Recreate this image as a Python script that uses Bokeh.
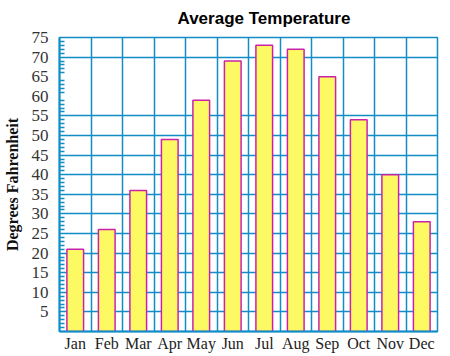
from bokeh.plotting import figure
from bokeh.models import FixedTicker, Range1d
from bokeh.embed import file_html
from bokeh.resources import INLINE
import numpy as np

months = ["Jan", "Feb", "Mar", "Apr", "May", "Jun", "Jul", "Aug", "Sep", "Oct", "Nov", "Dec"]
temps = [21, 26, 36, 49, 59, 69, 73, 72, 65, 54, 40, 28]
y_ticks = [5, 10, 15, 20, 25, 30, 35, 40, 45, 50, 55, 60, 65, 70, 75]
y_grid = [5, 10, 15, 20, 25, 30, 35, 40, 45, 50, 55, 70]
title_text = "Average Temperature"

BLUE = "#138dc6"
YELLOW = "#fdf962"
MAGENTA = "#cc22aa"

n = len(months)
xc = np.arange(n) + 0.5

p = figure(frame_width=378, frame_height=294, output_backend="svg", toolbar_location=None,
           x_range=Range1d(0, n), y_range=Range1d(0, 75),
           min_border_left=52, min_border_right=10, min_border_top=29, min_border_bottom=22)

p.vbar(x=xc, top=temps, width=0.53, bottom=0, fill_color=YELLOW, line_color=MAGENTA, line_width=1.5)

p.title.text = title_text
p.title.text_font = "Liberation Sans"
p.title.text_font_size = "17px"
p.title.text_font_style = "bold"
p.title.text_color = "#000000"
p.title.align = "left"
p.title.offset = 118
p.title.standoff = 16
p.title.vertical_align = "top"

p.outline_line_color = BLUE
p.outline_line_width = 1.5
p.outline_line_alpha = 1

# x axis
p.xaxis.ticker = FixedTicker(ticks=list(xc))
p.xaxis.major_label_overrides = {float(x): m for x, m in zip(xc, months)}
p.xaxis.major_label_text_font = "Liberation Serif"
p.xaxis.major_label_text_font_size = "16px"
p.xaxis.major_label_text_color = "#222222"
p.xaxis.major_tick_line_color = None
p.xaxis.major_tick_out = 0
p.xaxis.major_tick_in = 0
p.xaxis.minor_tick_line_color = None
p.xaxis.minor_tick_out = 0
p.xaxis.minor_tick_in = 0
p.xaxis.axis_line_color = BLUE
p.xaxis.axis_line_width = 2
p.xaxis.major_label_standoff = 3

# y axis
minor = [v for v in range(1, 75) if v % 5 != 0]
p.yaxis.ticker = FixedTicker(ticks=y_ticks, minor_ticks=minor)
p.yaxis.major_label_text_font = "Liberation Serif"
p.yaxis.major_label_text_font_size = "17px"
p.yaxis.major_label_text_color = "#333333"
p.yaxis.major_tick_line_color = None
p.yaxis.minor_tick_in = 5
p.yaxis.minor_tick_out = 0
p.yaxis.minor_tick_line_color = BLUE
p.yaxis.minor_tick_line_width = 1.5
p.yaxis.axis_line_color = BLUE
p.yaxis.axis_line_width = 2
p.yaxis.major_label_standoff = 5
p.yaxis.axis_label = "Degrees Fahrenheit"
p.yaxis.axis_label_text_font = "Liberation Serif"
p.yaxis.axis_label_text_font_size = "16px"
p.yaxis.axis_label_text_font_style = "bold"
p.yaxis.axis_label_text_color = "#111111"
p.yaxis.axis_label_standoff = 8

# grids
p.xgrid.ticker = FixedTicker(ticks=list(range(1, n)))
p.xgrid.grid_line_color = BLUE
p.xgrid.grid_line_width = 1.5
p.xgrid.grid_line_alpha = 1
p.ygrid.ticker = FixedTicker(ticks=y_grid)
p.ygrid.grid_line_color = BLUE
p.ygrid.grid_line_width = 1.5
p.ygrid.grid_line_alpha = 1
p.xgrid.level = "underlay"
p.ygrid.level = "underlay"

p.background_fill_color = "white"
p.border_fill_color = "white"

open("out.html", "w").write(file_html(p, INLINE))
